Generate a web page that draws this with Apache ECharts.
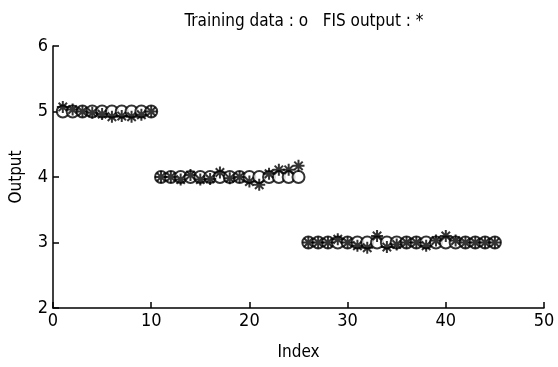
<!DOCTYPE html>
<html>
<head>
<meta charset="utf-8">
<script src="https://cdn.jsdelivr.net/npm/echarts@6/dist/echarts.min.js"></script>
<style>
  html, body { margin: 0; padding: 0; background: #fff; }
  #chart { width: 558px; height: 367px; }
</style>
</head>
<body>
<div id="chart"></div>
<script>
// training data (o) and FIS output (*) per index
const indices = [];
for (let i = 1; i <= 45; i++) indices.push(i);

const trainingData = [
  5, 5, 5, 5, 5, 5, 5, 5, 5, 5,
  4, 4, 4, 4, 4, 4, 4, 4, 4, 4, 4, 4, 4, 4, 4,
  3, 3, 3, 3, 3, 3, 3, 3, 3, 3, 3, 3, 3, 3, 3, 3, 3, 3, 3, 3
];

const fisOutput = [
  5.07, 5.03, 5.0, 4.98, 4.96, 4.92, 4.93, 4.92, 4.95, 5.0,
  4.0, 4.0, 3.96, 4.03, 3.96, 3.97, 4.07, 3.98, 4.0, 3.93, 3.88, 4.05, 4.11, 4.11, 4.17,
  3.0, 3.0, 3.0, 3.05, 3.0, 2.95, 2.92, 3.1, 2.93, 2.97, 3.0, 3.0, 2.95, 3.03, 3.1,
  3.03, 3.0, 3.0, 3.0, 3.0
];

const xTicks = [0, 10, 20, 30, 40, 50];
const yTicks = [2, 3, 4, 5, 6];

const asterisk = 'path://M5,0L5,10M0,5L10,5M1.5,1.5L8.5,8.5M8.5,1.5L1.5,8.5';

const chart = echarts.init(document.getElementById('chart'));
const font = '"DejaVu Sans Condensed", Arial, sans-serif';

chart.setOption({
  backgroundColor: '#fff',
  animation: false,
  title: {
    text: 'Training data : o   FIS output : *',
    left: 299,
    textAlign: 'center',
    top: 8,
    textStyle: { color: '#000', fontSize: 17, fontWeight: 'normal', fontFamily: font }
  },
  grid: { left: 53, right: 14, top: 46, bottom: 59 },
  xAxis: {
    type: 'value',
    min: xTicks[0],
    max: xTicks[xTicks.length - 1],
    interval: 10,
    name: 'Index',
    nameLocation: 'middle',
    nameGap: 36,
    nameTextStyle: { color: '#000', fontSize: 17, fontFamily: font },
    axisLine: { lineStyle: { color: '#000', width: 1.5 } },
    axisTick: { inside: true, length: 6, lineStyle: { color: '#000', width: 1.5 } },
    axisLabel: { color: '#000', fontSize: 18, fontFamily: font, margin: 4 },
    splitLine: { show: false }
  },
  yAxis: {
    type: 'value',
    min: yTicks[0],
    max: yTicks[yTicks.length - 1],
    interval: 1,
    name: 'Output',
    nameLocation: 'middle',
    nameGap: 28,
    nameTextStyle: { color: '#000', fontSize: 17, fontFamily: font },
    axisLine: { show: true, lineStyle: { color: '#000', width: 1.5 } },
    axisTick: { show: true, inside: true, length: 6, lineStyle: { color: '#000', width: 1.5 } },
    axisLabel: { color: '#000', fontSize: 18, fontFamily: font, margin: 5 },
    splitLine: { show: false }
  },
  series: [
    {
      name: 'Training data',
      type: 'scatter',
      data: indices.map((x, i) => [x, trainingData[i]]),
      symbol: 'emptyCircle',
      symbolSize: 12,
      itemStyle: { color: '#000', borderColor: '#000', borderWidth: 2 },
      z: 2
    },
    {
      name: 'FIS output',
      type: 'scatter',
      data: indices.map((x, i) => [x, fisOutput[i]]),
      symbol: asterisk,
      symbolSize: 12,
      itemStyle: { color: 'none', borderColor: '#000', borderWidth: 2 },
      z: 3
    }
  ]
});
</script>
</body>
</html>
